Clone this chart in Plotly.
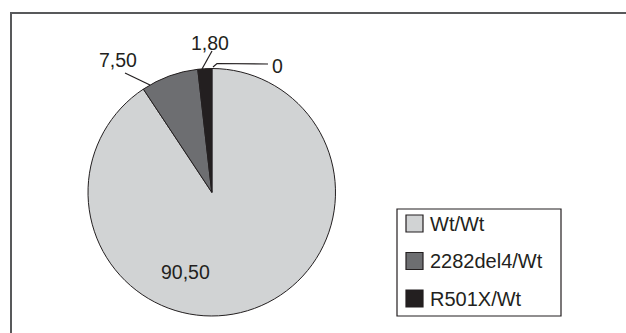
import plotly.graph_objects as go

W, H = 626, 333

# ---- data ----
categories = ["Wt/Wt", "2282del4/Wt", "R501X/Wt", "other"]
values = [90.50, 7.50, 1.80, 0.0]
colors = ["#d1d3d4", "#6d6e71", "#231f20", "#ffffff"]
legend_categories = categories[:3]


def fmt(v):
    return "0" if v == 0 else f"{v:.2f}".replace(".", ",")


value_labels = [fmt(v) for v in values]


def px(x, y):
    """pixel -> paper coordinates"""
    return x / W, 1 - y / H


TXT = "#231f20"
FONT = "Liberation Sans, Arial, sans-serif"

fig = go.Figure()
x0, y1 = px(88, 68.5)
x1, y0 = px(335.5, 316)
fig.add_trace(go.Pie(
    labels=categories, values=values, sort=False, direction="clockwise",
    rotation=0, textinfo="none", hoverinfo="label+value",
    marker=dict(colors=colors, line=dict(color="#231f20", width=1)),
    domain=dict(x=[x0, x1], y=[y0, y1]), showlegend=False,
))

shapes = []
annotations = []

# outer frame (left and top edges only)
fpts = [(11, 345), (11, 13), (630, 13)]
fpath = "M " + " L ".join(f"{px(x, y)[0]},{px(x, y)[1]}" for x, y in fpts)
shapes.append(dict(type="path", xref="paper", yref="paper", path=fpath,
                   line=dict(color="#58595b", width=2)))

# value labels (layout positions) and leader lines
label_pos = [(185, 272), (118, 60), (210, 43), (277, 66)]
for (lx, ly), t in zip(label_pos, value_labels):
    ax_, ay_ = px(lx, ly)
    annotations.append(dict(x=ax_, y=ay_, xref="paper", yref="paper", text=t,
                            showarrow=False, xanchor="center", yanchor="middle",
                            font=dict(family=FONT, size=19.5, color=TXT)))

leaders = [
    [(125, 73), (150, 85)],
    [(202, 69), (212, 51)],
    [(213, 67), (217, 63.5), (268, 64)],
]
for pts in leaders:
    path = "M " + " L ".join(f"{px(x, y)[0]},{px(x, y)[1]}" for x, y in pts)
    shapes.append(dict(type="path", xref="paper", yref="paper", path=path,
                       line=dict(color=TXT, width=1.2)))

# manual legend
lx0, ly1 = px(397, 209)
lx1, ly0 = px(561, 316)
shapes.append(dict(type="rect", xref="paper", yref="paper", x0=lx0, x1=lx1,
                   y0=ly0, y1=ly1, line=dict(color=TXT, width=1.2),
                   fillcolor="white"))
item_y = [223.5, 261, 298.5]
for name, col, cy in zip(legend_categories, colors, item_y):
    sx0, sy1 = px(406, cy - 8.5)
    sx1, sy0 = px(423, cy + 8.5)
    shapes.append(dict(type="rect", xref="paper", yref="paper", x0=sx0, x1=sx1,
                       y0=sy0, y1=sy1, fillcolor=col,
                       line=dict(color=TXT, width=1.2)))
    tx, ty = px(428, cy)
    annotations.append(dict(x=tx, y=ty, xref="paper", yref="paper", text=name,
                            showarrow=False, xanchor="left", yanchor="middle",
                            font=dict(family=FONT, size=20, color=TXT)))

fig.update_layout(
    width=W, height=H, margin=dict(l=0, r=0, t=0, b=0),
    paper_bgcolor="white", plot_bgcolor="white",
    shapes=shapes, annotations=annotations, showlegend=False,
)

fig.write_html("out.html")
